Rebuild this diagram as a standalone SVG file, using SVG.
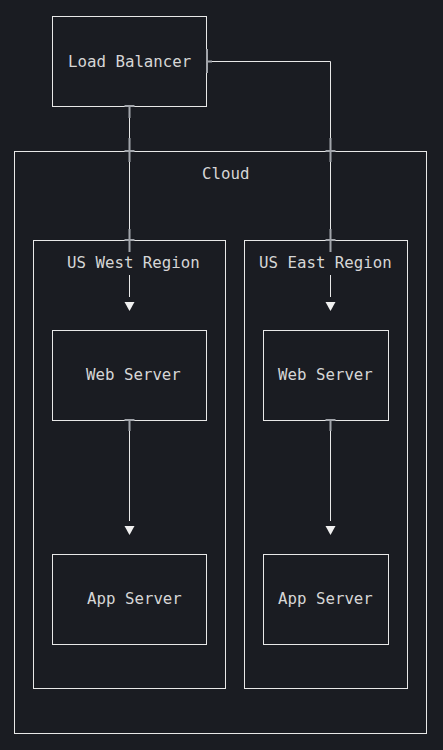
<svg xmlns="http://www.w3.org/2000/svg" width="443" height="750" viewBox="0 0 443 750">
  <defs>
    <style>
      .box { fill: none; stroke: #e8e8e8; stroke-width: 1; }
      .lbl { font-family: "DejaVu Sans Mono", "Liberation Mono", monospace; font-size: 15.75px; fill: #d6d6d6; }
      .ln { fill: none; stroke: #e8e8e8; stroke-width: 1; }
      .tick { fill: none; stroke: #a2a5ab; stroke-width: 2; }
      .head { fill: #f0f0f0; stroke: none; }
    </style>
  </defs>
  <rect x="0" y="0" width="443" height="750" fill="#1a1c22"/>

  <g id="cloud">
    <rect class="box" x="14.5" y="151.5" width="412" height="582"/>
    <text class="lbl" x="202" y="179">Cloud</text>
  </g>

  <g id="us-west">
    <rect class="box" x="33.5" y="240.5" width="192" height="448"/>
  </g>
  <g id="us-east">
    <rect class="box" x="244.5" y="240.5" width="163" height="448"/>
  </g>

  <g id="load-balancer">
    <rect class="box" x="52.5" y="16.5" width="154" height="90"/>
    <text class="lbl" x="68" y="67">Load Balancer</text>
  </g>

  <g id="west-web">
    <rect class="box" x="52.5" y="330.5" width="154" height="90"/>
    <text class="lbl" x="86" y="380">Web Server</text>
  </g>
  <g id="west-app">
    <rect class="box" x="52.5" y="554.5" width="154" height="90"/>
    <text class="lbl" x="87" y="604">App Server</text>
  </g>
  <g id="east-web">
    <rect class="box" x="263.5" y="330.5" width="125" height="90"/>
    <text class="lbl" x="278" y="380">Web Server</text>
  </g>
  <g id="east-app">
    <rect class="box" x="263.5" y="554.5" width="125" height="90"/>
    <text class="lbl" x="278" y="604">App Server</text>
  </g>

  <g id="connectors">
    <!-- LB to US West -->
    <path class="ln" d="M129.5 106 V252 M129.5 275 V297"/>
    <path class="tick" d="M124.5 106 H134.5 M129.5 106 V118"/>
    <path class="tick" d="M129.5 138 V162 M124.5 151 H134.5"/>
    <path class="tick" d="M129.5 229 V252 M124.5 240 H134.5"/>
    <path class="head" d="M124.5 302 H134.5 L129.5 311 Z"/>
    <!-- LB to US East -->
    <path class="ln" d="M207 61.5 H330.5 V252 M330.5 275 V297"/>
    <path class="tick" d="M207 49 V73 M207 61.5 H212"/>
    <path class="tick" d="M330.5 138 V162 M325.5 151 H335.5"/>
    <path class="tick" d="M330.5 229 V252 M325.5 240 H335.5"/>
    <path class="head" d="M325.5 302 H335.5 L330.5 311 Z"/>
    <!-- West web to app -->
    <path class="ln" d="M129.5 420 V521"/>
    <path class="tick" d="M124.5 420 H134.5 M129.5 420 V431"/>
    <path class="head" d="M124.5 526 H134.5 L129.5 535 Z"/>
    <!-- East web to app -->
    <path class="ln" d="M330.5 420 V521"/>
    <path class="tick" d="M325.5 420 H335.5 M330.5 420 V431"/>
    <path class="head" d="M325.5 526 H335.5 L330.5 535 Z"/>
  </g>

  <g id="region-labels">
    <text class="lbl" x="67" y="268">US West Region</text>
    <text class="lbl" x="259" y="268">US East Region</text>
  </g>
</svg>
